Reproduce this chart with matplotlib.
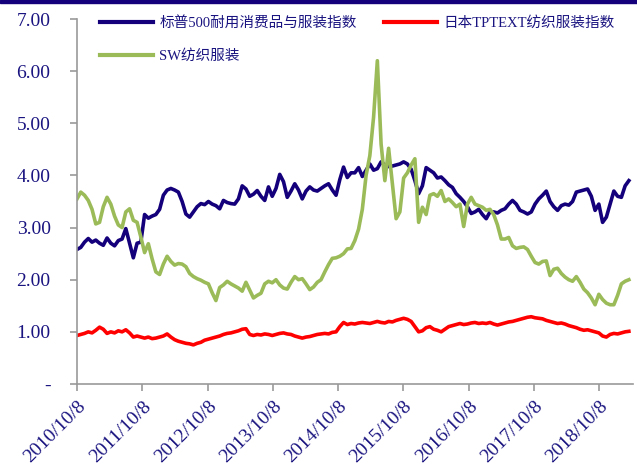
import matplotlib
matplotlib.use("Agg")
import matplotlib.pyplot as plt
import matplotlib.dates as mdates
import pandas as pd
from matplotlib.patches import Rectangle

# 3-weekly closes, index rebased, starting 2010/10/8
START = "2010-10-08"
STEP = "21D"

sp500_durables = [
    2.58, 2.62, 2.72, 2.79, 2.72, 2.76, 2.70, 2.66, 2.80, 2.70,
    2.65, 2.75, 2.78, 2.98, 2.70, 2.42, 2.70, 2.72, 3.25, 3.18,
    3.22, 3.25, 3.35, 3.62, 3.72, 3.75, 3.72, 3.68, 3.50, 3.26,
    3.20, 3.30, 3.40, 3.46, 3.44, 3.50, 3.45, 3.42, 3.36, 3.52,
    3.48, 3.46, 3.45, 3.55, 3.80, 3.74, 3.60, 3.64, 3.71, 3.60,
    3.52, 3.78, 3.60, 3.75, 4.02, 3.88, 3.58, 3.70, 3.84, 3.72,
    3.55, 3.70, 3.78, 3.72, 3.70, 3.75, 3.80, 3.84, 3.72, 3.62,
    3.92, 4.16, 3.96, 4.05, 4.05, 4.15, 3.98, 4.10, 4.22, 4.10,
    4.13, 4.26, 4.20, 4.17, 4.18, 4.20, 4.22, 4.26, 4.22, 4.12,
    3.90, 3.65, 3.80, 4.15, 4.10, 4.05, 3.95, 3.97, 3.90, 3.82,
    3.77, 3.65, 3.58, 3.50, 3.40, 3.27, 3.30, 3.35, 3.25, 3.17,
    3.30, 3.30, 3.28, 3.33, 3.36, 3.45, 3.52, 3.45, 3.33, 3.30,
    3.26, 3.30, 3.45, 3.55, 3.62, 3.70, 3.50, 3.40, 3.33, 3.42,
    3.45, 3.43, 3.50, 3.68, 3.70, 3.72, 3.74, 3.60, 3.33, 3.45,
    3.10, 3.20, 3.45, 3.70, 3.60, 3.58, 3.80, 3.90,
]

sw_textile = [
    3.55, 3.68, 3.62, 3.52, 3.35, 3.07, 3.10, 3.40, 3.58, 3.45,
    3.22, 3.05, 3.00, 3.30, 3.36, 3.14, 3.10, 2.82, 2.52, 2.69,
    2.40, 2.15, 2.10, 2.30, 2.45, 2.35, 2.28, 2.31, 2.30, 2.25,
    2.12, 2.06, 2.02, 1.99, 1.95, 1.92, 1.75, 1.60, 1.85, 1.90,
    1.97, 1.92, 1.88, 1.84, 1.78, 1.95, 1.80, 1.65, 1.70, 1.74,
    1.92, 1.97, 1.94, 2.00, 1.90, 1.84, 1.82, 1.95, 2.06, 2.00,
    2.02, 1.92, 1.81, 1.86, 1.95, 2.00, 2.15, 2.29, 2.41, 2.42,
    2.45, 2.50, 2.59, 2.60, 2.75, 2.97, 3.35, 4.00, 4.38, 5.12,
    6.20, 4.60, 3.90, 4.52, 3.84, 3.17, 3.30, 3.95, 4.05, 4.20,
    4.32, 3.10, 3.39, 3.25, 3.62, 3.65, 3.60, 3.71, 3.50, 3.55,
    3.48, 3.40, 3.45, 3.02, 3.45, 3.58, 3.45, 3.42, 3.39, 3.33,
    3.35, 3.25, 3.05, 2.78, 2.78, 2.81, 2.65, 2.60, 2.62, 2.63,
    2.58, 2.45, 2.33, 2.30, 2.35, 2.36, 2.08, 2.20, 2.22, 2.12,
    2.05, 2.00, 1.97, 2.06, 1.95, 1.82, 1.75, 1.65, 1.52, 1.72,
    1.62, 1.55, 1.52, 1.52, 1.70, 1.92, 1.97, 2.00,
]

jp_tptext = [
    0.93, 0.95, 0.97, 1.00, 0.98, 1.03, 1.09, 1.05, 0.97, 1.00,
    0.98, 1.02, 1.00, 1.04, 0.98, 0.90, 0.92, 0.90, 0.88, 0.90,
    0.87, 0.88, 0.90, 0.92, 0.96, 0.90, 0.85, 0.82, 0.80, 0.78,
    0.77, 0.75, 0.78, 0.80, 0.84, 0.86, 0.88, 0.90, 0.92, 0.95,
    0.97, 0.98, 1.00, 1.02, 1.05, 1.06, 0.95, 0.93, 0.95, 0.94,
    0.96, 0.95, 0.93, 0.95, 0.97, 0.98, 0.96, 0.95, 0.92, 0.90,
    0.88, 0.90, 0.91, 0.93, 0.95, 0.96, 0.97, 0.96, 0.99, 1.00,
    1.10, 1.18, 1.14, 1.16, 1.15, 1.17, 1.18, 1.17, 1.16, 1.18,
    1.20, 1.18, 1.17, 1.20, 1.19, 1.22, 1.24, 1.26, 1.24, 1.20,
    1.10, 1.00, 1.02, 1.08, 1.10, 1.05, 1.03, 1.00, 1.05, 1.10,
    1.12, 1.14, 1.16, 1.14, 1.15, 1.17, 1.18, 1.16, 1.17, 1.16,
    1.18, 1.15, 1.13, 1.15, 1.17, 1.19, 1.20, 1.22, 1.24, 1.26,
    1.28, 1.29, 1.27, 1.26, 1.25, 1.22, 1.20, 1.18, 1.16, 1.17,
    1.15, 1.12, 1.10, 1.08, 1.05, 1.03, 1.04, 1.02, 1.00, 0.98,
    0.92, 0.90, 0.95, 0.97, 0.96, 0.98, 1.00, 1.01,
]

labels = ["标普500耐用消费品与服装指数", "SW纺织服装", "日本TPTEXT纺织服装指数"]
tick_dates = ["2010-10-08", "2011-10-08", "2012-10-08", "2013-10-08", "2014-10-08",
              "2015-10-08", "2016-10-08", "2017-10-08", "2018-10-08"]
y_ticks = [0, 1, 2, 3, 4, 5, 6, 7]

NAVY = "#1a1480"
dates = pd.date_range(START, periods=len(sp500_durables), freq=STEP)

fig = plt.figure(figsize=(6.37, 4.75), dpi=100)
ax = fig.add_axes([0.1209, 0.1916, 0.8728, 0.7684])

ax.plot(dates, sp500_durables, color="#14007a", lw=2.6, label=labels[0])
ax.plot(dates, sw_textile, color="#9bbb59", lw=2.6, label=labels[1])
ax.plot(dates, jp_tptext, color="#ff0000", lw=2.6, label=labels[2])

ax.set_ylim(0, 7)
ax.set_xlim(pd.Timestamp("2010-10-08"), pd.Timestamp("2019-04-14"))

serif = ["Liberation Serif", "Noto Sans CJK SC"]
ax.set_yticks(y_ticks)
ax.set_yticklabels(["-" if v == 0 else f"{v:.2f}" for v in y_ticks],
                   family=serif, fontsize=14, color=NAVY)
ticks = [pd.Timestamp(d) for d in tick_dates]
ax.set_xticks(ticks)
ax.set_xticklabels([f"{t.year}/{t.month}/{t.day}" for t in ticks],
                   family=serif, fontsize=14, color=NAVY,
                   rotation=45, ha="right", rotation_mode="anchor")

for side in ("top", "right"):
    ax.spines[side].set_visible(False)
for side in ("left", "bottom"):
    ax.spines[side].set_color("#999999")
    ax.spines[side].set_linewidth(1.2)
ax.tick_params(axis="both", direction="out", length=5, width=1.2, color="#999999")
ax.tick_params(axis="y", pad=14)
ax.tick_params(axis="x", pad=5)

leg = ax.legend(loc="upper left", bbox_to_anchor=(0.018, 1.045), ncol=2, frameon=False,
                prop={"family": serif, "size": 10.5}, handlelength=3.6,
                columnspacing=1.9, labelspacing=1.35, handletextpad=0.45)
for t in leg.get_texts():
    t.set_color(NAVY)
for h in leg.get_lines():
    h.set_linewidth(3)

# dark band across the top edge
fig.patches.append(Rectangle((0, 0.994), 1, 0.006, transform=fig.transFigure,
                             color="#14007a", zorder=10))

fig.savefig("out.png", dpi=100)
